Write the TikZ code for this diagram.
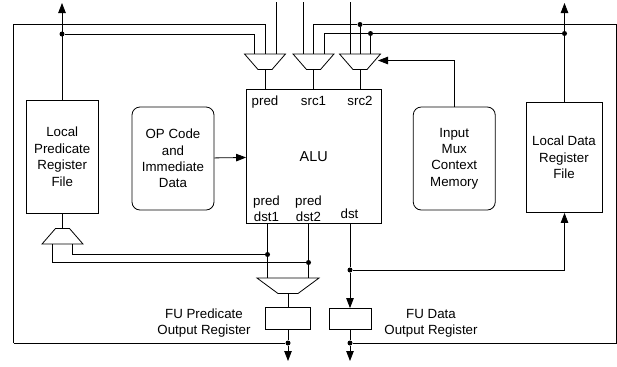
\documentclass[tikz,border=0pt]{standalone}
\usepackage{fontspec}
\setmainfont{Liberation Sans}
\usetikzlibrary{positioning,arrows.meta,shapes.geometric}

\begin{document}
\begin{tikzpicture}[x=1bp,y=-1bp, line width=0.8bp, font=\fontsize{13.3bp}{16.4bp}\selectfont,
  box/.style={draw,minimum width=#1,inner sep=0,align=center},
  ctx/.style={draw,rounded corners=8bp,minimum width=82bp,minimum height=103bp,inner sep=0,align=center},
  mux/.style={draw,trapezium,inner xsep=7bp,inner ysep=7.75bp,trapezium angle=49},
  dmux/.style={mux,shape border rotate=180},
  dot/.style={circle,fill,inner sep=0,minimum size=5bp},
  lbl/.style={inner sep=0,align=center},
  arr/.style={-{Triangle[length=10bp,width=7.5bp]}}]
\useasboundingbox (0,0) rectangle (617,366);
% registers and control blocks
\node[box=72.5bp,minimum height=113.5bp] (lpred) at (62.25,156.75) {Local\\Predicate\\Register\\File};
\node[ctx] (opcode) at (173,158.5) {OP Code\\and\\Immediate\\Data};
\node[box=134.5bp,minimum height=134bp,font=\fontsize{14.4bp}{16bp}\selectfont] (alu) at (313.75,156.5) {ALU};
\node[ctx] (inmux) at (454.25,158.5) {Input\\Mux\\Context\\Memory};
\node[box=76bp,minimum height=110.5bp] (ldata) at (564,157.25) {Local Data\\Register\\File};
\node[box=44.5bp,minimum height=21.5bp] (fupred) at (287.75,318.25) {};
\node[box=42bp,minimum height=20.5bp] (fudata) at (350,318.75) {};
% muxes
\node[dmux] (muxpred) at (265,61.75) {};
\node[dmux] (muxsrca) at (313.5,61.75) {};
\node[dmux] (muxsrcb) at (360,61.75) {};
\node[mux] (muxreg) at (62.5,236.25) {};
\node[dmux,inner xsep=10bp,trapezium angle=36.4] (muxout) at (288,285.75) {};
% alu port labels
\node[lbl,anchor=base] at (265,105) {pred};
\node[lbl,anchor=base] at (313.5,105) {src1};
\node[lbl,anchor=base] at (360,105) {src2};
\node[lbl] at (266.5,208.7) {pred\\dst1};
\node[lbl] at (308.5,208.7) {pred\\dst2};
\node[lbl,anchor=base] at (349.5,218) {dst};
\node[lbl] at (204,323) {FU Predicate\\Output Register};
\node[lbl] at (431,323) {FU Data\\Output Register};
% junctions
\node[dot] (ja) at (62,34) {};
\node[dot] (jb) at (360,24.5) {};
\node[dot] (jc) at (370.5,33.5) {};
\node[dot] (jd) at (564.5,33.5) {};
\node[dot] (je) at (267.5,254.5) {};
\node[dot] (jf) at (308.5,262.5) {};
\node[dot] (jg) at (350,270) {};
\node[dot] (jh) at (288,343) {};
\node[dot] (ji) at (350,343) {};
% free ends
\coordinate (topa) at (62,3);
\coordinate (topb) at (564.5,3);
\coordinate (ina) at (276,2);
\coordinate (inb) at (303,2);
\coordinate (inc) at (350,2);
\coordinate (outa) at (288,361);
\coordinate (outb) at (350,361);
\coordinate (framea) at (13.5,24.5);
\coordinate (frameb) at (13.5,343);
\coordinate (framec) at (616,24.5);
\coordinate (framed) at (616,343);
% top
\draw[arr] (lpred.north -| ja) -- (topa);
\draw[arr] (ldata.north -| jd) -- (topb);
\draw (ja) -| (254.5,54);
\draw (frameb) -- (framea) -| (muxpred.north);
\draw (ina) -- (276,54);
\draw (inb) -- (303,54);
\draw (muxsrca.north) |- (jb) -- (framec) -- (framed) -- (ji);
\draw (frameb) -- (jh);
\draw (324,54) |- (jd);
\draw (inc) -- (350,54);
\draw (jb) -- (muxsrcb.north);
\draw (jc) -- (370.5,54);
\draw[arr] (inmux.north) |- (378,60.5);
\draw (muxpred.south) -- (alu.north -| muxpred);
\draw (muxsrca.south) -- (alu.north -| muxsrca);
\draw (muxsrcb.south) -- (alu.north -| muxsrcb);
\draw[arr] (opcode) -- (alu);
% bottom
\draw (lpred.south -| muxreg) -- (muxreg.north);
\draw (52,244) |- (jf);
\draw (72.5,244) |- (je);
\draw (alu.south -| je) -- (je) -- (267.5,278);
\draw (alu.south -| jf) -- (jf) -- (308.5,278);
\draw (alu.south -| jg) -- (jg);
\draw[arr] (jg) -- (fudata.north);
\draw[arr] (jg) -| (ldata.south -| jd);
\draw (muxout.south) -- (fupred.north -| muxout);
\draw (fupred.south -| jh) -- (jh);
\draw[arr] (jh) -- (outa);
\draw (fudata.south) -- (ji);
\draw[arr] (ji) -- (outb);
\end{tikzpicture}
\end{document}
